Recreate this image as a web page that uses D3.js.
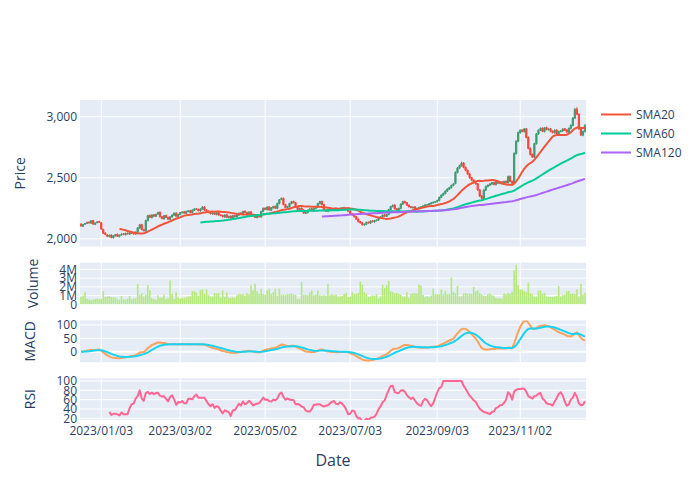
<!DOCTYPE html>
<html><head><meta charset="utf-8">
<script src="https://cdn.jsdelivr.net/npm/d3@7"></script>
<style>body{margin:0;background:#fff}svg{display:block;font-family:"Open Sans",verdana,arial,sans-serif}</style>
</head><body><svg id="c" width="700" height="500"></svg>
<script>
const openP = [
2120,2102,2120,2126,2138,2128,2150,2118,2132,2142,
2132,2078,2048,2032,2018,2032,2008,2024,2038,2018,
2032,2042,2033,2047,2038,2052,2047,2038,2053,2088,
2118,2077,2062,2148,2192,2172,2198,2183,2202,2218,
2182,2163,2192,2177,2158,2178,2193,2212,2183,2198,
2213,2222,2208,2223,2232,2213,2233,2247,2242,2228,
2243,2262,2237,2227,2217,2203,2212,2198,2217,2197,
2192,2178,2197,2173,2187,2168,2192,2178,2193,2212,
2198,2227,2217,2203,2222,2197,2187,2173,2192,2178,
2223,2252,2238,2262,2233,2253,2267,2248,2288,2322,
2332,2282,2253,2263,2288,2307,2297,2262,2238,2252,
2237,2208,2213,2233,2247,2228,2248,2258,2288,2307,
2282,2237,2223,2238,2247,2233,2252,2238,2243,2248,
2257,2243,2252,2227,2207,2197,2182,2162,2142,2132,
2113,2118,2137,2128,2147,2138,2148,2153,2168,2178,
2197,2183,2198,2238,2263,2277,2247,2233,2248,2283,
2307,2297,2277,2264,2253,2262,2240,2248,2256,2260,
2268,2276,2278,2286,2293,2298,2303,2313,2338,2356,
2370,2390,2406,2418,2436,2452,2543,2578,2598,2622,
2587,2562,2532,2502,2482,2462,2452,2402,2352,2328,
2398,2428,2438,2448,2462,2443,2472,2453,2467,2448,
2472,2458,2512,2472,2453,2698,2798,2868,2892,2878,
2902,2832,2742,2692,2668,2778,2858,2888,2907,2878,
2912,2893,2902,2882,2868,2892,2858,2878,2883,2902,
2892,2873,2903,2928,2988,3062,3022,2902,2848,2878];
const highP = [
2128,2122,2131,2140,2142,2152,2155,2134,2146,2148,
2138,2082,2054,2038,2034,2036,2029,2040,2042,2034,
2045,2046,2049,2051,2054,2056,2050,2059,2096,2122,
2122,2081,2156,2196,2198,2200,2203,2205,2222,2224,
2187,2195,2197,2181,2185,2200,2216,2217,2205,2220,
2226,2227,2230,2236,2237,2240,2251,2252,2246,2250,
2268,2266,2241,2231,2221,2215,2216,2220,2221,2201,
2197,2200,2201,2190,2191,2195,2196,2200,2215,2217,
2230,2232,2221,2225,2226,2201,2191,2195,2196,2230,
2256,2257,2266,2267,2260,2271,2272,2296,2326,2340,
2337,2286,2270,2295,2311,2312,2301,2266,2255,2257,
2241,2220,2240,2250,2251,2255,2265,2295,2312,2312,
2286,2241,2245,2250,2252,2255,2257,2250,2255,2260,
2262,2255,2257,2231,2211,2201,2186,2166,2146,2136,
2125,2140,2141,2150,2151,2155,2160,2175,2185,2200,
2202,2205,2246,2270,2281,2282,2252,2255,2290,2311,
2312,2301,2281,2268,2265,2266,2255,2262,2267,2275,
2283,2285,2293,2300,2305,2310,2320,2346,2363,2378,
2397,2414,2426,2443,2456,2552,2588,2607,2632,2628,
2592,2567,2537,2507,2487,2467,2457,2407,2357,2406,
2436,2446,2456,2466,2467,2476,2477,2471,2472,2476,
2477,2518,2518,2477,2708,2808,2878,2897,2897,2907,
2908,2838,2748,2698,2786,2866,2896,2912,2913,2916,
2918,2906,2908,2887,2896,2898,2886,2891,2906,2908,
2898,2911,2937,2997,3072,3078,3028,2908,2886,2938];
const lowP = [
2100,2098,2114,2121,2125,2124,2116,2112,2128,2130,
2074,2040,2030,2014,2013,2004,2003,2020,2015,2013,
2027,2030,2029,2035,2034,2040,2035,2034,2049,2083,
2070,2060,2058,2144,2170,2168,2180,2178,2197,2175,
2160,2158,2170,2155,2153,2173,2188,2180,2178,2193,
2208,2205,2203,2218,2210,2208,2228,2235,2225,2223,
2238,2230,2220,2210,2200,2198,2195,2193,2190,2185,
2175,2173,2170,2168,2165,2163,2175,2173,2188,2195,
2193,2210,2200,2198,2190,2180,2170,2168,2175,2173,
2218,2235,2233,2230,2228,2248,2244,2243,2283,2316,
2275,2250,2248,2258,2283,2290,2255,2235,2233,2230,
2205,2203,2208,2228,2225,2223,2243,2253,2283,2275,
2230,2220,2218,2233,2230,2228,2235,2233,2238,2243,
2240,2238,2220,2200,2190,2175,2155,2135,2125,2108,
2107,2113,2125,2123,2135,2133,2143,2148,2163,2173,
2180,2178,2193,2233,2258,2240,2230,2228,2243,2278,
2290,2270,2257,2250,2248,2237,2235,2243,2251,2255,
2263,2271,2273,2281,2288,2293,2298,2308,2333,2351,
2365,2385,2401,2413,2431,2447,2536,2571,2591,2578,
2553,2523,2493,2473,2453,2443,2393,2343,2320,2322,
2392,2422,2432,2442,2438,2437,2449,2447,2444,2442,
2453,2452,2464,2448,2446,2690,2791,2861,2873,2871,
2823,2733,2683,2662,2661,2772,2852,2882,2873,2872,
2888,2887,2873,2863,2862,2853,2852,2872,2877,2883,
2868,2866,2896,2921,2981,3013,2893,2842,2840,2871];
const closeP = [
2105,2118,2125,2135,2130,2148,2120,2130,2140,2135,
2080,2045,2035,2020,2030,2010,2025,2035,2020,2030,
2040,2035,2045,2040,2050,2045,2040,2055,2090,2115,
2075,2065,2150,2190,2175,2195,2185,2200,2215,2180,
2165,2190,2175,2160,2180,2195,2210,2185,2200,2215,
2220,2210,2225,2230,2215,2235,2245,2240,2230,2245,
2260,2235,2225,2215,2205,2210,2200,2215,2195,2190,
2180,2195,2175,2185,2170,2190,2180,2195,2210,2200,
2225,2215,2205,2220,2195,2185,2175,2190,2180,2225,
2250,2240,2260,2235,2255,2265,2250,2290,2320,2330,
2280,2255,2265,2290,2305,2295,2260,2240,2250,2235,
2210,2215,2235,2245,2230,2250,2260,2290,2305,2280,
2235,2225,2240,2245,2235,2250,2240,2245,2250,2255,
2245,2250,2225,2205,2195,2180,2160,2140,2130,2115,
2120,2135,2130,2145,2140,2150,2155,2170,2180,2195,
2185,2200,2240,2265,2275,2245,2235,2250,2285,2305,
2295,2275,2262,2255,2260,2242,2250,2258,2262,2270,
2278,2280,2288,2295,2300,2305,2315,2340,2358,2372,
2392,2408,2420,2438,2450,2545,2580,2600,2620,2585,
2560,2530,2500,2480,2460,2450,2400,2350,2330,2400,
2430,2440,2450,2460,2445,2470,2455,2465,2450,2470,
2460,2510,2470,2455,2700,2800,2870,2890,2880,2900,
2830,2740,2690,2670,2780,2860,2890,2905,2880,2910,
2895,2900,2880,2870,2890,2860,2880,2885,2900,2890,
2875,2905,2930,2990,3060,3020,2900,2850,2880,2930];
const volumeM = [
0.85,1.0,1.4,0.65,0.55,0.5,0.55,0.6,0.65,0.6,
0.65,1.5,0.85,0.9,0.95,0.85,0.8,0.8,0.6,0.55,
0.95,0.6,0.55,0.65,0.95,0.6,0.65,0.7,2.35,1.1,
1.3,0.9,1.1,2.2,1.6,0.7,0.6,0.55,1.05,0.75,
0.8,1.1,0.6,0.7,2.75,1.2,0.6,1.4,0.8,0.65,
0.75,0.7,0.8,0.9,0.9,1.5,1.5,1.35,1.0,1.6,
1.75,1.2,1.7,1.05,0.9,0.9,1.3,1.25,1.3,0.8,
1.6,0.85,1.4,0.75,0.75,0.8,0.75,1.05,1.2,1.15,
1.2,1.0,1.3,1.15,2.2,1.6,2.35,1.5,1.2,1.8,
1.2,1.1,1.6,1.8,1.2,1.4,1.8,1.0,1.8,1.1,
1.1,1.05,1.2,1.2,1.25,1.15,1.1,0.65,0.6,2.55,
1.1,1.1,1.05,1.4,1.6,1.05,1.1,1.6,1.05,1.0,
1.05,1.0,2.35,1.05,1.2,1.05,1.1,0.9,0.9,0.95,
1.2,1.3,0.85,0.85,1.4,1.2,1.2,1.3,2.6,2.25,
1.4,1.2,0.85,0.9,1.05,1.0,1.2,0.65,0.9,2.25,
1.9,2.2,2.7,1.5,1.4,1.25,1.3,1.2,1.1,0.9,
0.9,1.4,0.75,1.2,1.3,1.25,1.25,2.25,2.15,1.1,
0.85,0.95,0.85,1.0,1.8,1.15,1.15,1.15,1.7,1.15,
1.55,1.15,1.2,3.1,1.45,1.3,2.1,0.9,0.95,1.25,
1.3,1.2,1.25,1.2,2.0,1.5,1.6,1.3,1.1,1.0,
0.95,1.15,1.25,1.05,1.0,0.75,0.7,0.7,0.65,1.25,
1.15,1.3,1.2,1.45,3.9,4.55,2.2,1.7,1.7,1.5,
1.4,2.5,1.25,1.15,0.85,0.9,1.55,1.6,1.2,1.3,
0.9,0.85,0.85,0.85,0.9,0.95,2.1,0.9,1.05,1.1,
1.5,1.55,1.2,1.25,1.2,1.7,0.9,2.35,1.1,1.3];
const xTickIdx = [10, 49, 91, 133, 176, 217];
const xTickLabels = ["2023/01/03","2023/03/02","2023/05/02","2023/07/03","2023/09/03","2023/11/02"];
const priceTicks = [2000, 2500, 3000];
const volTicks = [0, 1, 2, 3, 4];
const macdTicks = [0, 50, 100];
const rsiTicks = [20, 40, 60, 80, 100];
const smaWindows = [20, 60, 120];
const smaNames = ["SMA20", "SMA60", "SMA120"];
const smaColors = ["#EF553B", "#00CC96", "#AB63FA"];

const N = closeP.length;
const svg = d3.select("#c");
const TXT = "#2a3f5f", BG = "#E5ECF6";
const L = 80, R = 586;

// indicators
function sma(n){ return closeP.map((c,i)=> i<n-1 ? null : d3.mean(closeP.slice(i-n+1,i+1))); }
function ema(arr, span){ const a=2/(span+1); const out=[]; arr.forEach((v,i)=>{ out.push(i===0? v : a*v+(1-a)*out[i-1]); }); return out; }
const e12 = ema(closeP,12), e26 = ema(closeP,26);
const macd = e12.map((v,i)=>v-e26[i]);
const signal = ema(macd,9);
const rsi = closeP.map((c,i)=>{
  if(i<14) return null;
  let g=0,l=0;
  for(let j=i-13;j<=i;j++){ const d=closeP[j]-closeP[j-1]; if(d>0) g+=d; else l-=d; }
  if(l===0) return 100;
  const rs=(g/14)/(l/14); return 100-100/(1+rs);
});

const x = d3.scaleLinear().domain([-0.5, N-0.5]).range([L, R]);
const step = x(1)-x(0);

const panels = {
  price: {y0:100, y1:246.5, dom:[1937,3137], ticks:priceTicks, fmt:d3.format(","), title:"Price", tx:20},
  vol:   {y0:262.6, y1:304.4, dom:[0,4.78], ticks:volTicks, fmt:d=>d===0?"0":d+"M", title:"Volume", tx:33},
  macd:  {y0:320.4, y1:362.2, dom:[-39,117], ticks:macdTicks, fmt:d3.format("d"), title:"MACD", tx:30.5, zero:true},
  rsi:   {y0:378.2, y1:420, dom:[16.4,106], ticks:rsiTicks, fmt:d3.format("d"), title:"RSI", tx:30.5}
};
Object.entries(panels).forEach(([k,p])=>{
  p.y = d3.scaleLinear().domain(p.dom).range([p.y1,p.y0]);
  svg.append("rect").attr("x",L).attr("y",p.y0).attr("width",R-L).attr("height",p.y1-p.y0).attr("fill",BG);
  const g = svg.append("g");
  xTickIdx.forEach(i=>{
    g.append("line").attr("x1",x(i)).attr("x2",x(i)).attr("y1",p.y0).attr("y2",p.y1).attr("stroke","#fff").attr("stroke-width",1);
  });
  p.ticks.forEach(t=>{
    const yy = p.y(t);
    g.append("line").attr("x1",L).attr("x2",R).attr("y1",yy).attr("y2",yy).attr("stroke","#fff").attr("stroke-width",(p.zero&&t===0)?2:1);
    svg.append("text").attr("x",L-3).attr("y",yy).attr("dy","0.35em").attr("text-anchor","end")
      .attr("font-size",12).attr("fill",TXT).text(p.fmt(t));
  });
  svg.append("text").attr("transform",`translate(${p.tx},${(p.y0+p.y1)/2}) rotate(-90)`)
    .attr("text-anchor","middle").attr("dy","0.35em").attr("font-size",14).attr("fill",TXT).text(p.title);
  svg.append("clipPath").attr("id","clip-"+k).append("rect").attr("x",L).attr("y",p.y0).attr("width",R-L).attr("height",p.y1-p.y0);
});

// candles
const P = panels.price;
const cg = svg.append("g").attr("clip-path","url(#clip-price)");
const bw = step*0.6;
d3.range(N).forEach(i=>{
  const up = closeP[i] >= openP[i];
  const col = up ? "#3D9970" : "#FF4136";
  const cx = x(i);
  const yo = P.y(openP[i]), yc = P.y(closeP[i]);
  const top = Math.min(yo,yc), bot = Math.max(yo,yc);
  const path = `M${cx},${P.y(highP[i])}V${top}M${cx-bw/2},${top}H${cx+bw/2}V${bot}H${cx-bw/2}ZM${cx},${bot}V${P.y(lowP[i])}`;
  cg.append("path").attr("d",path).attr("fill",col).attr("stroke",col).attr("stroke-width",1);
});
// SMAs
smaWindows.forEach((n,k)=>{
  const s = sma(n);
  const line = d3.line().defined(d=>d[1]!==null).x(d=>x(d[0])).y(d=>P.y(d[1]));
  cg.append("path").attr("d",line(s.map((v,i)=>[i,v]))).attr("fill","none")
    .attr("stroke",smaColors[k]).attr("stroke-width",2).attr("stroke-linejoin","round");
});

// volume
const V = panels.vol;
const vg = svg.append("g").attr("clip-path","url(#clip-vol)");
volumeM.forEach((v,i)=>{
  vg.append("rect").attr("x",x(i)-step*0.4).attr("width",step*0.8).attr("y",V.y(v)).attr("height",V.y(0)-V.y(v)).attr("fill","#B6E880");
});

// MACD
const M = panels.macd;
const mg = svg.append("g").attr("clip-path","url(#clip-macd)");
const mline = d3.line().x((d,i)=>x(i)).y(d=>M.y(d));
mg.append("path").attr("d",mline(macd)).attr("fill","none").attr("stroke","#FFA15A").attr("stroke-width",2).attr("stroke-linejoin","round");
mg.append("path").attr("d",mline(signal)).attr("fill","none").attr("stroke","#19D3F3").attr("stroke-width",2).attr("stroke-linejoin","round");

// RSI
const Rp = panels.rsi;
const rg = svg.append("g").attr("clip-path","url(#clip-rsi)");
const rline = d3.line().defined(d=>d[1]!==null).x(d=>x(d[0])).y(d=>Rp.y(d[1]));
rg.append("path").attr("d",rline(rsi.map((v,i)=>[i,v]))).attr("fill","none").attr("stroke","#FF6692").attr("stroke-width",2).attr("stroke-linejoin","round");

// x tick labels
xTickIdx.forEach((i,k)=>{
  svg.append("text").attr("x",x(i)).attr("y",434.5).attr("text-anchor","middle").attr("font-size",12).attr("fill",TXT).text(xTickLabels[k]);
});
svg.append("text").attr("x",(L+R)/2).attr("y",466).attr("text-anchor","middle").attr("font-size",16).attr("fill",TXT).text("Date");

// legend
smaNames.forEach((nm,k)=>{
  const yy = 114.5 + k*19;
  svg.append("line").attr("x1",601).attr("x2",631).attr("y1",yy).attr("y2",yy).attr("stroke",smaColors[k]).attr("stroke-width",2);
  svg.append("text").attr("x",636).attr("y",yy).attr("dy","0.35em").attr("font-size",12).attr("fill",TXT).text(nm);
});
</script></body></html>
